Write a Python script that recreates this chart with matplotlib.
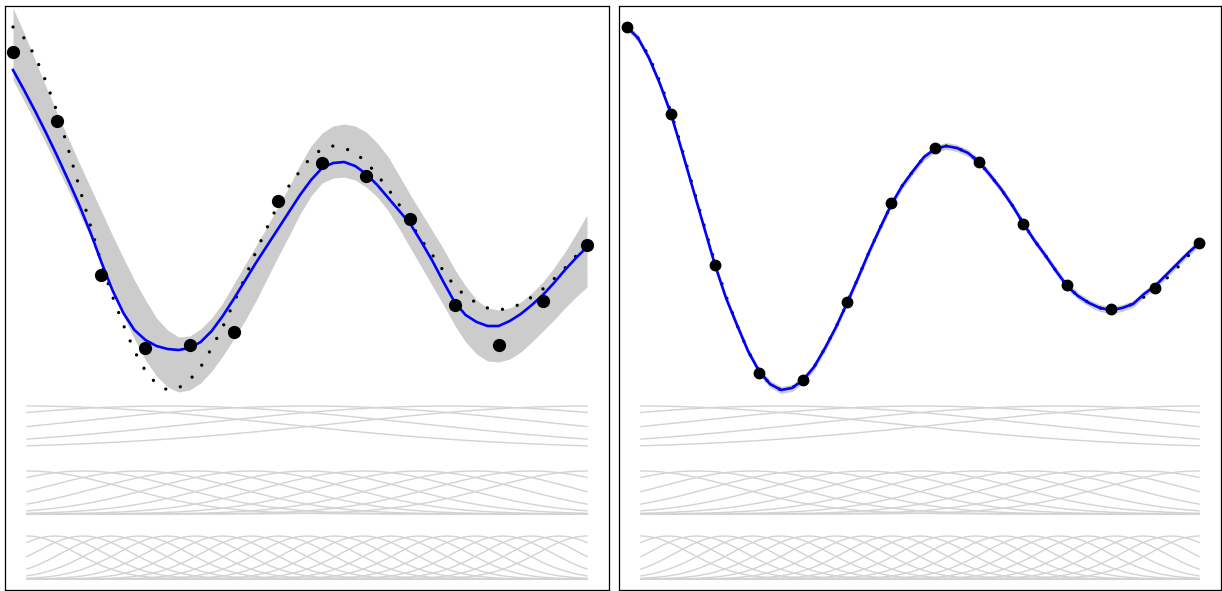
import numpy as np
import matplotlib.pyplot as plt

# x positions (data units 0..1) of the observations and of the read-off curve samples
x_obs = np.linspace(0, 1, 14)
x_curve = np.linspace(0, 1, 53)

# noisy observations (left) and noise-free observations (right)
y_noisy = [5.38, 4.69, 3.15, 2.42, 2.45, 2.58, 3.89, 4.27, 4.14, 3.71, 2.85, 2.45, 2.89, 3.45]
y_clean = [5.63, 4.76, 3.25, 2.17, 2.10, 2.88, 3.87, 4.42, 4.28, 3.66, 3.05, 2.81, 3.02, 3.47]

# true function (dotted)
y_true = [5.63, 5.52, 5.34, 5.08, 4.78, 4.41, 4.03, 3.65, 3.27, 2.94,
          2.65, 2.39, 2.19, 2.06, 2.00, 2.02, 2.10, 2.23, 2.42, 2.63,
          2.87, 3.12, 3.38, 3.62, 3.85, 4.04, 4.19, 4.33, 4.41, 4.44,
          4.42, 4.37, 4.28, 4.15, 4.01, 3.85, 3.67, 3.50, 3.35, 3.19,
          3.04, 2.94, 2.87, 2.82, 2.80, 2.82, 2.86, 2.93, 3.01, 3.11,
          3.22, 3.34, 3.46]

# fit on the noisy data and its band
fit_noisy = [5.20, 5.00, 4.79, 4.57, 4.34, 4.10, 3.85, 3.58, 3.28, 3.00,
             2.77, 2.60, 2.50, 2.44, 2.41, 2.40, 2.42, 2.48, 2.59, 2.74,
             2.91, 3.09, 3.27, 3.44, 3.61, 3.78, 3.95, 4.10, 4.22, 4.27,
             4.28, 4.24, 4.16, 4.05, 3.92, 3.79, 3.66, 3.48, 3.29, 3.08,
             2.88, 2.75, 2.68, 2.64, 2.64, 2.69, 2.76, 2.85, 2.95, 3.07,
             3.20, 3.32, 3.43]
band_hi_noisy = [5.82, 5.57, 5.30, 5.03, 4.77, 4.52, 4.27, 4.03, 3.79, 3.55,
                 3.32, 3.10, 2.90, 2.72, 2.60, 2.53, 2.54, 2.61, 2.72, 2.87,
                 3.06, 3.25, 3.44, 3.63, 3.83, 4.03, 4.25, 4.44, 4.57, 4.64,
                 4.66, 4.64, 4.58, 4.47, 4.33, 4.14, 3.95, 3.77, 3.59, 3.41,
                 3.21, 3.04, 2.90, 2.82, 2.80, 2.82, 2.88, 2.97, 3.08, 3.22,
                 3.38, 3.56, 3.75]
band_lo_noisy = [5.10, 4.89, 4.68, 4.46, 4.23, 4.00, 3.77, 3.53, 3.26, 2.99,
                 2.74, 2.51, 2.30, 2.14, 2.03, 1.98, 2.00, 2.07, 2.19, 2.34,
                 2.51, 2.69, 2.89, 3.11, 3.33, 3.54, 3.76, 3.94, 4.07, 4.12,
                 4.13, 4.10, 4.03, 3.93, 3.79, 3.61, 3.42, 3.23, 3.04, 2.85,
                 2.65, 2.48, 2.36, 2.29, 2.28, 2.31, 2.38, 2.48, 2.59, 2.70,
                 2.82, 2.93, 3.03]

# fit on the noise-free data (band is very thin)
fit_clean = [5.63, 5.52, 5.32, 5.06, 4.76, 4.39, 4.01, 3.63, 3.25, 2.92,
             2.65, 2.39, 2.19, 2.06, 2.00, 2.02, 2.10, 2.23, 2.42, 2.63,
             2.87, 3.12, 3.38, 3.62, 3.85, 4.04, 4.19, 4.33, 4.41, 4.44,
             4.42, 4.37, 4.28, 4.15, 4.01, 3.85, 3.67, 3.50, 3.35, 3.19,
             3.04, 2.94, 2.87, 2.82, 2.80, 2.82, 2.86, 2.96, 3.04, 3.15,
             3.26, 3.37, 3.47]
band_halfwidth_clean = 0.035

# gaussian basis functions at three scales
basis_counts = [5, 11, 21]
basis_start = 0.0244
basis_offsets = [1.41, 0.76, 0.11]
basis_height = 0.43

fig = plt.figure(figsize=(12.22, 5.91), dpi=100)
ax1 = fig.add_axes([5 / 1222, 1 / 591, 604 / 1222, 584 / 591])
ax2 = fig.add_axes([619 / 1222, 1 / 591, 602 / 1222, 584 / 591])

xb = np.linspace(basis_start, 1, 400)


def draw_panel(ax, y_pts, fit, lo, hi, msize):
    for n, off in zip(basis_counts, basis_offsets):
        centers = np.linspace(basis_start, 1, n)
        sig = 1.75 * (centers[1] - centers[0])
        for c in centers:
            ax.plot(xb, off + basis_height * np.exp(-(xb - c) ** 2 / (2 * sig ** 2)),
                    color='#d3d3d3', lw=1.0, zorder=1)
    ax.fill_between(x_curve, lo, hi, color='#cccccc', lw=0, zorder=2)
    ax.plot(x_curve, y_true, color='black', lw=2.4, dashes=(0.001, 4.6),
            dash_capstyle='round', zorder=3)
    ax.plot(x_curve, fit, color='blue', lw=1.9, zorder=4)
    ax.plot(x_obs, y_pts, 'o', color='black', ms=msize, zorder=5)
    ax.set_xlim(-8 / 574, 596 / 574)
    ax.set_ylim(0, 5.84)
    ax.set_xticks([])
    ax.set_yticks([])
    for s in ax.spines.values():
        s.set_linewidth(0.9)


draw_panel(ax1, y_noisy, fit_noisy, band_lo_noisy, band_hi_noisy, 8.5)
lo_c = np.array(fit_clean) - band_halfwidth_clean
hi_c = np.array(fit_clean) + band_halfwidth_clean
draw_panel(ax2, y_clean, fit_clean, lo_c, hi_c, 7.5)

plt.savefig('out.png', dpi=100)
